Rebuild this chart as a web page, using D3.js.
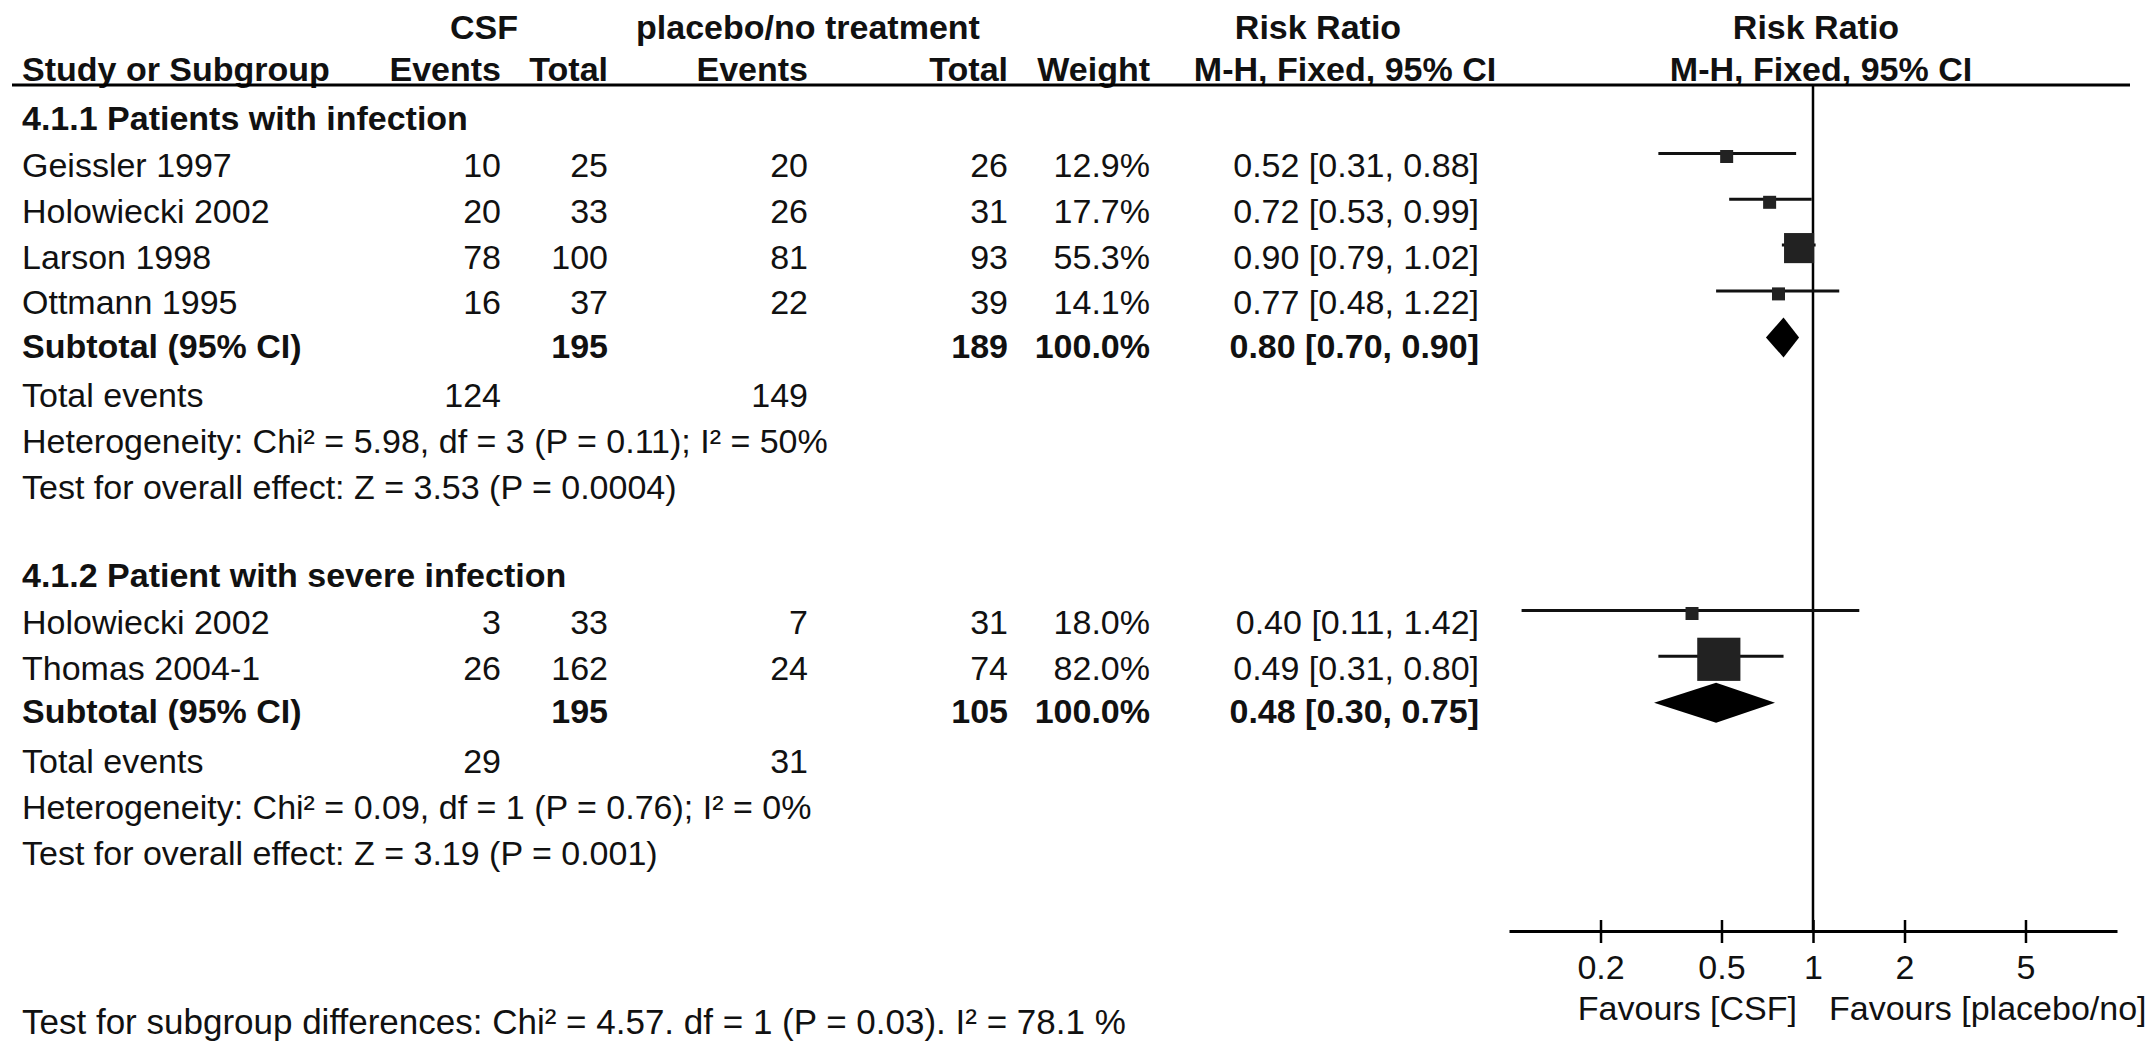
<!DOCTYPE html>
<html><head><meta charset="utf-8">
<script src="https://cdn.jsdelivr.net/npm/d3@7"></script>
<style>
html,body{margin:0;padding:0;background:#fff;}
svg{display:block;}
text{font-family:"Liberation Sans",Arial,Helvetica,sans-serif;font-size:34px;fill:#111;}
</style></head><body>
<svg id="chart" width="2150" height="1057"></svg>
<script>
// ---------------- data ----------------
const groupTitles = ["4.1.1 Patients with infection", "4.1.2 Patient with severe infection"];
const studies1   = ["Geissler 1997", "Holowiecki 2002", "Larson 1998", "Ottmann 1995"];
const csfEvents1 = [10, 20, 78, 16];
const csfTotal1  = [25, 33, 100, 37];
const ctlEvents1 = [20, 26, 81, 22];
const ctlTotal1  = [26, 31, 93, 39];
const weight1    = [12.9, 17.7, 55.3, 14.1];
const rr1        = [0.52, 0.72, 0.90, 0.77];
const rrLow1     = [0.31, 0.53, 0.79, 0.48];
const rrHigh1    = [0.88, 0.99, 1.02, 1.22];

const studies2   = ["Holowiecki 2002", "Thomas 2004-1"];
const csfEvents2 = [3, 26];
const csfTotal2  = [33, 162];
const ctlEvents2 = [7, 24];
const ctlTotal2  = [31, 74];
const weight2    = [18.0, 82.0];
const rr2        = [0.40, 0.49];
const rrLow2     = [0.11, 0.31];
const rrHigh2    = [1.42, 0.80];

const subtotalCsfTotal = [195, 195];
const subtotalCtlTotal = [189, 105];
const subtotalWeight   = [100.0, 100.0];
const subtotalRR       = [0.80, 0.48];
const subtotalLow      = [0.70, 0.30];
const subtotalHigh     = [0.90, 0.75];
const totalEventsCsf   = [124, 29];
const totalEventsCtl   = [149, 31];
const heterogeneity = [
  "Heterogeneity: Chi\u00B2 = 5.98, df = 3 (P = 0.11); I\u00B2 = 50%",
  "Heterogeneity: Chi\u00B2 = 0.09, df = 1 (P = 0.76); I\u00B2 = 0%"
];
const overallEffect = [
  "Test for overall effect: Z = 3.53 (P = 0.0004)",
  "Test for overall effect: Z = 3.19 (P = 0.001)"
];
const subgroupTest = "Test for subgroup differences: Chi\u00B2 = 4.57. df = 1 (P = 0.03). I\u00B2 = 78.1 %";
const tickValues = [0.2, 0.5, 1, 2, 5];
const tickLabels = ["0.2", "0.5", "1", "2", "5"];
const favourLabels = ["Favours [CSF]", "Favours [placebo/no]"];
const headerTop = ["CSF", "placebo/no treatment", "Risk Ratio", "Risk Ratio"];
const headerCols = ["Study or Subgroup", "Events", "Total", "Events", "Total", "Weight", "M-H, Fixed, 95% CI", "M-H, Fixed, 95% CI"];

// ---------------- layout ----------------
const svg = d3.select("#chart");
const col = {label: 22, ce: 501, ct: 608, pe: 808, pt: 1008, w: 1150, rr: 1479};
const x = d3.scaleLog().domain([0.1, 10]).range([1509, 2117]);
const boxScale = d3.scaleLinear().domain([0, 100]).range([3, 52]);
const boxSize = w => Math.max(13, boxScale(w));
const f2 = d3.format(".2f"), f1 = d3.format(".1f");
const rowH = 45.8, lineOff = -11.5, boxOff = -8.5, diaOff = -8.5, axisY = 931, ruleY = 85;

const groups = [
  {title: groupTitles[0], top: 118, studies: studies1, ce: csfEvents1, ct: csfTotal1, pe: ctlEvents1, pt: ctlTotal1, w: weight1, rr: rr1, lo: rrLow1, hi: rrHigh1},
  {title: groupTitles[1], top: 575, studies: studies2, ce: csfEvents2, ct: csfTotal2, pe: ctlEvents2, pt: ctlTotal2, w: weight2, rr: rr2, lo: rrLow2, hi: rrHigh2}
];

function txt(g, s, xx, yy, anchor, bold) {
  return g.append("text").attr("x", xx).attr("y", yy)
    .attr("dominant-baseline", "central")
    .attr("text-anchor", anchor || "start")
    .style("font-weight", bold ? "bold" : "normal")
    .text(s);
}

// headers
const hdr = svg.append("g");
txt(hdr, headerTop[0], 484, 27, "middle", true);
txt(hdr, headerTop[1], 808, 27, "middle", true);
txt(hdr, headerTop[2], 1318, 27, "middle", true);
txt(hdr, headerTop[3], 1816, 27, "middle", true);
const hy = 69;
txt(hdr, headerCols[0], col.label, hy, "start", true);
txt(hdr, headerCols[1], col.ce, hy, "end", true);
txt(hdr, headerCols[2], col.ct, hy, "end", true);
txt(hdr, headerCols[3], col.pe, hy, "end", true);
txt(hdr, headerCols[4], col.pt, hy, "end", true);
txt(hdr, headerCols[5], col.w, hy, "end", true);
txt(hdr, headerCols[6], 1345, hy, "middle", true);
txt(hdr, headerCols[7], 1821, hy, "middle", true);
hdr.append("line").attr("x1", 12).attr("x2", 2130).attr("y1", ruleY).attr("y2", ruleY)
  .attr("stroke", "#000").attr("stroke-width", 3);

// reference line at RR = 1
svg.append("line").attr("x1", x(1)).attr("x2", x(1)).attr("y1", ruleY).attr("y2", axisY)
  .attr("stroke", "#000").attr("stroke-width", 2.5);

// groups
groups.forEach((G, gi) => {
  const g = svg.append("g");
  txt(g, G.title, col.label, G.top, "start", true);
  const rows = G.studies.map((s, i) => ({
    label: s, ce: G.ce[i], ct: G.ct[i], pe: G.pe[i], pt: G.pt[i], w: G.w[i],
    rr: G.rr[i], lo: G.lo[i], hi: G.hi[i], y: G.top + 47 + i * rowH
  }));
  rows.forEach(r => {
    txt(g, r.label, col.label, r.y);
    txt(g, r.ce, col.ce, r.y, "end");
    txt(g, r.ct, col.ct, r.y, "end");
    txt(g, r.pe, col.pe, r.y, "end");
    txt(g, r.pt, col.pt, r.y, "end");
    txt(g, f1(r.w) + "%", col.w, r.y, "end");
    txt(g, `${f2(r.rr)} [${f2(r.lo)}, ${f2(r.hi)}]`, col.rr, r.y, "end");
  });
  // CI lines and boxes
  g.selectAll("line.ci").data(rows).join("line").attr("class", "ci")
    .attr("x1", d => x(d.lo)).attr("x2", d => x(d.hi))
    .attr("y1", d => d.y + lineOff).attr("y2", d => d.y + lineOff)
    .attr("stroke", "#111").attr("stroke-width", 3);
  g.selectAll("rect.box").data(rows).join("rect").attr("class", "box")
    .attr("x", d => x(d.rr) - boxSize(d.w) / 2)
    .attr("y", d => d.y + boxOff - boxSize(d.w) / 2)
    .attr("width", d => boxSize(d.w)).attr("height", d => boxSize(d.w))
    .attr("fill", "#222");

  const sy = rows[rows.length - 1].y + 43.5;
  txt(g, "Subtotal (95% CI)", col.label, sy, "start", true);
  txt(g, subtotalCsfTotal[gi], col.ct, sy, "end", true);
  txt(g, subtotalCtlTotal[gi], col.pt, sy, "end", true);
  txt(g, f1(subtotalWeight[gi]) + "%", col.w, sy, "end", true);
  txt(g, `${f2(subtotalRR[gi])} [${f2(subtotalLow[gi])}, ${f2(subtotalHigh[gi])}]`, col.rr, sy, "end", true);
  const dy = sy + diaOff, hh = 20;
  g.append("path")
    .attr("d", `M${x(subtotalLow[gi])},${dy} L${x(subtotalRR[gi])},${dy - hh} L${x(subtotalHigh[gi])},${dy} L${x(subtotalRR[gi])},${dy + hh} Z`)
    .attr("fill", "#000");

  const ty = sy + 49.5;
  txt(g, "Total events", col.label, ty);
  txt(g, totalEventsCsf[gi], col.ce, ty, "end");
  txt(g, totalEventsCtl[gi], col.pe, ty, "end");
  txt(g, heterogeneity[gi], col.label, ty + 46);
  txt(g, overallEffect[gi], col.label, ty + 92);
});

// axis
const ax = svg.append("g").attr("transform", `translate(0,${axisY})`)
  .call(d3.axisBottom(x).tickValues(tickValues).tickFormat((d, i) => tickLabels[i]).tickSizeOuter(0));
ax.select(".domain").attr("stroke", "#000").attr("stroke-width", 3);
ax.selectAll(".tick line").attr("y1", -11).attr("y2", 12).attr("stroke", "#000").attr("stroke-width", 2.5);
ax.selectAll(".tick text").attr("y", 36).attr("dy", null).attr("dominant-baseline", "central")
  .style("font-size", "34px").style("font-family", "'Liberation Sans', Arial, sans-serif").attr("fill", "#111");

txt(svg, favourLabels[0], x(1) - 16, 1008, "end");
txt(svg, favourLabels[1], x(1) + 16, 1008, "start");
txt(svg, subgroupTest, col.label, 1021).style("font-size", "35px");
</script>
</body></html>
